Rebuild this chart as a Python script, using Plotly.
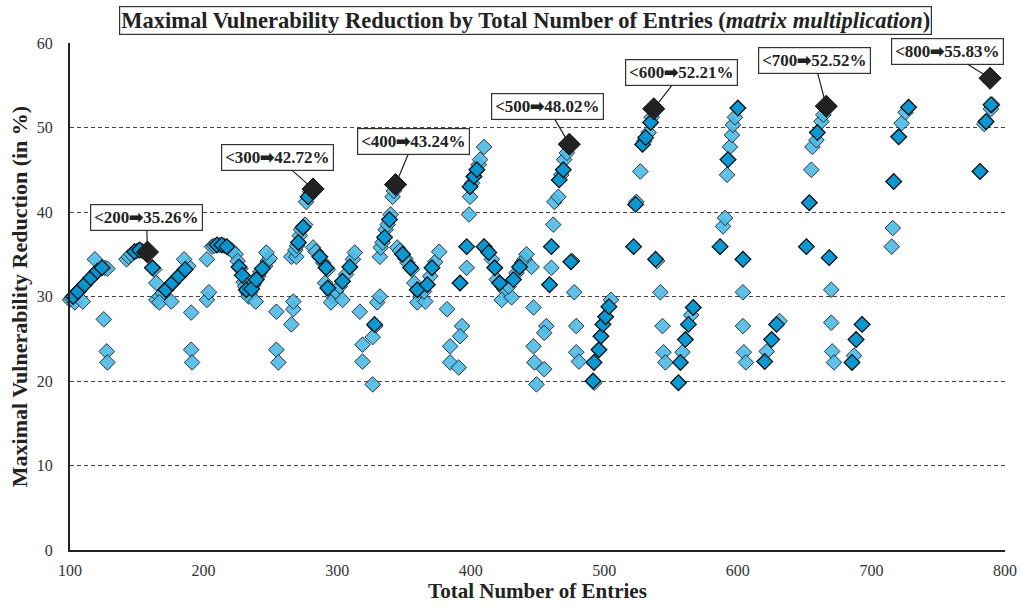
import plotly.graph_objects as go

# Configurations with fewer than 200 entries
x_1xx = [100, 101.2, 102.4, 103.6, 104.8, 106, 107.2, 108.4, 109.6, 110.8, 112, 113.2, 114.4, 115.6,
         116.8, 118, 119.2, 120.4, 121.6, 122.8, 124, 103.7, 109.6, 118.6, 126, 128, 125.3, 127.5, 128,
         142.3, 144, 146, 148.3, 150, 152, 154, 161.7, 163, 164.6,
         164.6, 167, 169.4, 171.8, 174.2, 176.6, 179, 181.4, 183.8, 186.2, 188.6,
         166.9, 175.8, 185.4, 190.7, 190.7, 191.4]
y_1xx = [29.6, 29.8, 30.0, 30.2, 30.4, 30.6, 30.8, 31.0, 31.2, 31.4, 31.6, 31.8, 32.0, 32.2,
         32.4, 32.6, 32.8, 33.0, 33.2, 33.3, 33.4, 29.3, 29.4, 34.4, 33.4, 33.3, 27.3, 23.5, 22.2,
         34.4, 34.7, 35.0, 35.3, 35.4, 35.5, 35.4, 33.4, 33.2, 31.6,
         29.6, 30.0, 30.4, 30.8, 31.2, 31.6, 32.0, 32.4, 32.8, 33.2, 33.6,
         29.3, 29.4, 34.4, 28.1, 23.7, 22.2]

# 200 - 299 entries
x_2xx = [202.5, 204, 202.5, 206.3, 208, 210, 212, 213.7, 215.5, 217.4, 219, 221, 224,
         225.5, 226.5, 227.5, 229, 230, 231, 232, 233, 234,
         235, 236, 237, 238, 239.5, 241, 242.5, 244, 246, 248, 249.5, 233.7, 239, 247,
         254.5, 254.5, 256, 265.7, 267.2, 267.2, 265.7, 269.4,
         268.7, 270, 271, 272, 273, 274.5, 276, 276.8, 278.3, 279.8, 281,
         282, 284, 287, 289.5, 291.7, 293, 291, 293, 295.4, 297, 295.4,
         299]
y_2xx = [29.6, 30.5, 34.4, 35.9, 36.0, 36.1, 36.1, 36.1, 36.0, 35.9, 35.7, 35.5, 35.0,
         34.2, 33.5, 33.3, 32.5, 31.7, 31.2, 30.8, 30.5, 30.2,
         30.5, 30.9, 31.3, 31.6, 32.0, 32.4, 32.9, 33.3, 33.6, 34.2, 34.5, 30.0, 29.4, 35.2,
         28.2, 23.7, 22.2, 26.7, 28.5, 29.4, 34.7, 34.7,
         35.5, 36.0, 36.4, 37.2, 37.9, 38.2, 38.5, 41.2, 41.8, 42.4, 42.6,
         35.8, 35.3, 34.7, 34.0, 33.4, 33.2, 31.6, 31.0, 30.5, 30.0, 29.3,
         30.6]

# 300 - 399 entries
x_3xx = [302, 304, 306.6, 309.5, 311.8, 313.2, 304,
         317, 319, 319, 326.6, 328, 328.5, 326.6, 330, 332,
         332, 332.6, 334, 335.5, 336.3, 337.8, 339.2, 340, 341.5, 342.5,
         345, 347, 349, 351, 352.6, 355, 356, 357.8, 360, 361.5, 362.3, 360, 366,
         365, 367.5, 369.7, 371, 373.4, 376.4,
         382.3, 384.6, 384.6, 391, 393.5, 392,
         392, 397, 397, 398.7]
y_3xx = [31.2, 31.8, 32.6, 33.5, 34.4, 35.2, 29.6,
         28.2, 24.3, 22.3, 19.6, 26.7, 26.5, 25.2, 29.3, 30.0,
         34.7, 35.8, 36.4, 37.0, 37.9, 38.5, 39.1, 39.7, 41.8, 42.5,
         35.8, 35.4, 35.0, 34.5, 34.0, 33.4, 33.2, 31.6, 30.8, 30.5, 30.0, 29.3, 29.4,
         30.6, 31.4, 32.4, 33.4, 34.1, 35.3,
         28.5, 24.1, 22.2, 21.6, 26.5, 25.3,
         31.6, 33.4, 35.9, 39.7]

# 400 - 499 entries
x_4xx = [399.5, 399.5, 401, 402.4, 404.6, 406, 407, 410,
         410, 412, 413.5, 415.8, 418, 419.5, 421.7, 423.5, 425.4, 423.2, 430.6,
         428.4, 432, 434.3, 436.6, 438.5, 440.3, 441.8, 445.5,
         447, 456.6, 455, 447, 447.7, 455, 449.2,
         460.4, 459, 460.4, 461.8, 462.6, 465.6, 466.3, 467.8, 469.3, 470, 472,
         475, 476, 477.5, 479, 479, 481,
         492.3, 491.6, 492.5, 496, 497.5, 499]
y_4xx = [41.8, 43.0, 43.4, 44.2, 45.0, 45.6, 46.2, 47.7,
         35.9, 35.5, 35.2, 34.4, 33.4, 32.0, 31.6, 31.2, 30.8, 29.6, 29.9,
         31.2, 32.0, 32.8, 33.5, 34.0, 34.4, 35.0, 33.5,
         28.7, 26.5, 25.7, 24.1, 22.2, 21.4, 19.6,
         33.4, 31.4, 35.9, 38.5, 41.2, 41.8, 43.8, 44.4, 45.0, 46.2, 47.0,
         34.1, 34.2, 30.5, 26.5, 23.4, 22.3,
         22.2, 20.0, 19.8, 23.7, 25.3, 26.7]

# 500 - 599 entries
x_5xx = [501, 503.5, 505,
         522, 523.5, 524, 527, 528.7, 530, 531, 533.2, 534.7, 535.5,
         538.4, 539.5, 542, 543.6, 544.3, 545.8,
         555.5, 557, 558.5, 560.7, 563, 565, 566.6,
         586.7, 588.9, 590.4, 591.9, 592.6, 594.1, 595.6, 596.3, 597.8]
y_5xx = [27.6, 28.8, 29.6,
         35.9, 40.9, 41.2, 44.8, 48.0, 48.4, 48.8, 49.4, 50.6, 51.2,
         34.4, 34.2, 30.5, 26.5, 23.4, 22.2,
         19.8, 22.2, 23.4, 24.9, 26.7, 27.8, 28.7,
         35.9, 38.3, 39.3, 44.4, 46.2, 47.7, 49.1, 50.3, 51.2]

# 600 - 699 entries
x_6xx = [600, 603.8, 603.8, 603.8, 604.5, 606,
         620.1, 621.6, 625.3, 629, 631.2,
         651.3, 653.5, 655, 655.8, 658.8, 659.5, 662.5, 664,
         668.4, 669.9, 669.9, 670.6, 672,
         685.5, 687, 688.5, 693]
y_6xx = [52.3, 34.4, 30.5, 26.5, 23.4, 22.2,
         22.3, 23.5, 24.9, 26.7, 27.1,
         35.9, 41.1, 45.0, 47.7, 48.5, 49.4, 50.7, 51.5,
         34.6, 30.8, 26.9, 23.5, 22.2,
         22.2, 23.0, 24.9, 26.7]

# 700 - 800 entries
x_7xx = [715.2, 716, 716.7, 720.4, 722.6, 725.6, 727.8,
         781.3, 784.5, 785.8, 789.5, 790.5]
y_7xx = [35.9, 38.1, 43.6, 48.9, 50.5, 51.8, 52.4,
         44.8, 50.4, 50.7, 52.2, 52.7]

# Configurations that occur several times (stacked marks)
x_stack = [161.7, 226.5, 328, 392, 397, 399.5, 410, 459, 460.4, 475, 492.3, 491.6, 496, 497.5, 499,
           501, 503.5, 522, 523.5, 528.7, 531, 534.7, 538.4, 555.5, 557, 560.7, 563, 566.6, 586.7,
           592.6, 600, 603.8, 620.1, 625.3, 629, 651.3, 653.5, 668.4, 659.5, 685.5, 688.5, 693,
           716.7, 720.4, 727.8, 781.3, 785.8, 789.5,
           102.4, 106, 110.8, 115.6, 120.4, 124, 171.8, 176.6, 181.4, 186.2, 148.3, 152,
           210, 213.7, 217.4, 229, 232, 236, 239.5, 244, 271, 274.5, 278.3, 287, 291.7,
           293, 304, 309.5, 335.5, 339.2, 349, 355, 360, 367.5, 371, 402.4, 404.6,
           413.5, 418, 421.7, 432, 436.6, 466.3, 469.3]
y_stack = [33.4, 33.5, 26.7, 31.6, 35.9, 43.0, 35.9, 31.4, 35.9, 34.1, 22.2, 20.0, 23.7, 25.3, 26.7,
           27.6, 28.8, 35.9, 40.9, 48.0, 48.8, 50.6, 34.4, 19.8, 22.2, 24.9, 26.7, 28.7, 35.9,
           46.2, 52.3, 34.4, 22.3, 24.9, 26.7, 35.9, 41.1, 34.6, 49.4, 22.2, 24.9, 26.7,
           43.6, 48.9, 52.4, 44.8, 50.7, 52.7,
           30.0, 30.6, 31.4, 32.2, 33.0, 33.4, 30.8, 31.6, 32.4, 33.2, 35.3, 35.5,
           36.1, 36.1, 35.9, 32.5, 30.8, 30.9, 32.0, 33.3, 36.4, 38.2, 41.8, 34.7, 33.4,
           31.0, 31.8, 33.5, 37.0, 39.1, 35.0, 33.4, 30.8, 31.4, 33.4, 44.2, 45.0,
           35.2, 33.4, 31.6, 32.0, 33.5, 43.8, 45.0]

# Best reduction reached below each size bound
best_x = [158, 282, 343.7, 473.8, 537, 666.2, 788.8]
best_y = [35.26, 42.72, 43.24, 48.02, 52.21, 52.52, 55.83]
best_bound = ["<200", "<300", "<400", "<500", "<600", "<700", "<800"]
label_offsets = [(-1, -35), (-36, -32), (18, -43), (-22, -38), (28, -36), (-12, -46), (-43, -27)]

all_x = x_1xx + x_2xx + x_3xx + x_4xx + x_5xx + x_6xx + x_7xx
all_y = y_1xx + y_2xx + y_3xx + y_4xx + y_5xx + y_6xx + y_7xx

SERIF = "Liberation Serif, Times New Roman, serif"

fig = go.Figure()
fig.add_trace(go.Scatter(
    x=all_x, y=all_y, mode="markers", cliponaxis=False, showlegend=False,
    marker=dict(symbol="diamond", size=12, color="rgba(78,186,228,0.9)",
                line=dict(color="rgba(25,35,45,0.9)", width=1)),
))
fig.add_trace(go.Scatter(
    x=x_stack, y=y_stack, mode="markers", cliponaxis=False, showlegend=False,
    marker=dict(symbol="diamond", size=12, color="rgba(8,150,208,0.95)",
                line=dict(color="rgba(15,20,25,1)", width=1.3)),
))
fig.add_trace(go.Scatter(
    x=best_x, y=best_y, mode="markers", cliponaxis=False, showlegend=False,
    marker=dict(symbol="diamond", size=17, color="#222222",
                line=dict(color="#111111", width=1)),
))

for bx, by, bound, (ox, oy) in zip(best_x, best_y, best_bound, label_offsets):
    fig.add_annotation(
        x=bx, y=by, xref="x", yref="y",
        text=f"<b>{bound}\u27a1{by:.2f}%</b>",
        showarrow=True, arrowhead=0, arrowwidth=1.2, arrowcolor="#222222",
        ax=ox, ay=oy, standoff=7,
        font=dict(family=SERIF, size=17, color="#222222"),
        bordercolor="#333333", borderwidth=1.2, borderpad=3, bgcolor="white",
    )

fig.add_annotation(
    x=0.487, y=1.045, xref="paper", yref="paper", xanchor="center", yanchor="middle",
    showarrow=False,
    text="<b>Maximal Vulnerability Reduction by Total Number of Entries (<i>matrix multiplication</i>)</b>",
    font=dict(family=SERIF, size=22.5, color="#222222"),
    bordercolor="#333333", borderwidth=1.2, borderpad=1, bgcolor="white",
)

fig.update_layout(
    width=1029, height=610,
    margin=dict(l=70, r=17, t=43, b=59),
    plot_bgcolor="white", paper_bgcolor="white",
    font=dict(family=SERIF, color="#333333"),
    xaxis=dict(
        range=[100, 800], tickmode="linear", tick0=100, dtick=100,
        showgrid=False, zeroline=False,
        showline=True, linecolor="#222222", linewidth=2,
        ticks="", ticklabelstandoff=5, tickfont=dict(family=SERIF, size=16, color="#333333"),
        title=dict(text="<b>Total Number of Entries</b>",
                   font=dict(family=SERIF, size=21, color="#222222"), standoff=4),
    ),
    yaxis=dict(
        range=[0, 60], tickmode="linear", tick0=0, dtick=10,
        showgrid=True, gridcolor="#444444", gridwidth=1, griddash="4px,3px",
        zeroline=False, showline=True, linecolor="#222222", linewidth=2,
        ticks="", ticklabelstandoff=12, tickfont=dict(family=SERIF, size=16, color="#333333"),
        title=dict(text="<b>Maximal Vulnerability Reduction (in %)</b>",
                   font=dict(family=SERIF, size=22, color="#222222"), standoff=3),
    ),
)

fig.write_html("out.html")
